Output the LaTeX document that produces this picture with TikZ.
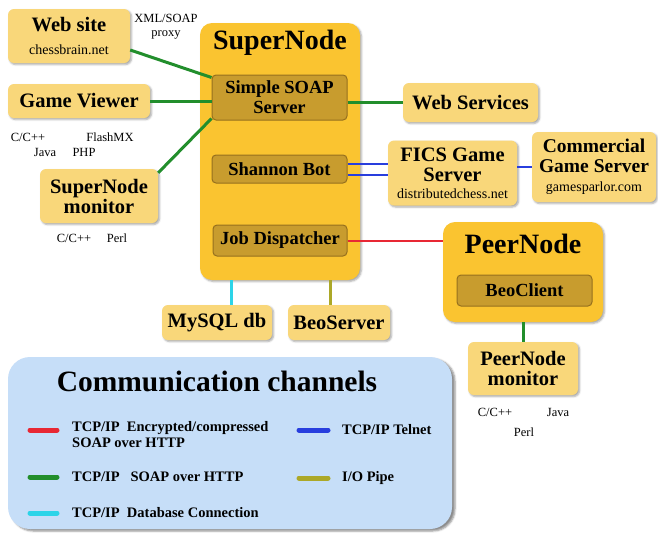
\documentclass[tikz,border=0pt]{standalone}
\usepackage{fontspec}
\setmainfont{Liberation Serif}
\usetikzlibrary{shadows.blur}

\definecolor{sidefill}{RGB}{249,215,122}
\definecolor{hostfill}{RGB}{250,196,48}
\definecolor{partfill}{RGB}{200,156,46}
\definecolor{partedge}{RGB}{150,112,30}
\definecolor{keyfill}{RGB}{198,222,248}
\definecolor{linered}{RGB}{232,40,52}
\definecolor{linegreen}{RGB}{34,142,44}
\definecolor{lineblue}{RGB}{40,62,222}
\definecolor{linecyan}{RGB}{44,212,232}
\definecolor{lineolive}{RGB}{172,168,40}

\newcommand{\bigfont}{\fontsize{28}{30}\selectfont\bfseries}
\newcommand{\midfont}{\fontsize{20.5}{21}\selectfont\bfseries}
\newcommand{\partfont}{\fontsize{18.5}{19}\selectfont\bfseries}
\newcommand{\subfont}{\fontsize{14}{15}\selectfont\mdseries}
\newcommand{\notefont}{\fontsize{12.5}{14}\selectfont}
\newcommand{\keyfont}{\fontsize{14.5}{16}\selectfont\bfseries}

\tikzset{
  softshadow/.style={blur shadow={shadow xshift=1.5pt, shadow yshift=-1.5pt, shadow blur steps=4, shadow opacity=35}},
  sidebox/.style={fill=sidefill, rounded corners=6pt, inner sep=0pt, align=center, font=\midfont, softshadow},
  hostbox/.style={fill=hostfill, rounded corners=12pt, inner sep=0pt, softshadow},
  partbox/.style={fill=partfill, draw=partedge, line width=1pt, rounded corners=4pt, inner sep=0pt, align=center, font=\partfont},
  note/.style={font=\notefont, inner sep=0pt, align=center},
  keytext/.style={font=\keyfont, inner sep=0pt, anchor=west, align=left},
  link/.style={line width=3pt},
  keyline/.style={line width=5pt, line cap=round}
}

\begin{document}
\begin{tikzpicture}[x=1pt,y=-1pt]
\useasboundingbox (0,0) rectangle (658,533);

% legend panel
\node[fill=keyfill, rounded corners=22pt, minimum width=444pt, minimum height=172pt, inner sep=0pt,
  blur shadow={shadow xshift=3pt, shadow yshift=-2pt, shadow blur steps=4, shadow opacity=45}] (legend) at (230,443) {};

% hosts
\node[hostbox, minimum width=160pt, minimum height=257pt] (supernode) at (280,151.5) {};
\node[font=\bigfont, inner sep=0pt] (sntitle) at (280,43) {SuperNode};
\node[partbox, minimum width=135pt, minimum height=45pt] (soap) at (279.5,97.5) {Simple SOAP\\[1pt]Server};
\node[partbox, minimum width=135pt, minimum height=28pt] (shannon) at (279.5,169) {Shannon Bot};
\node[partbox, minimum width=134pt, minimum height=31pt] (jobdisp) at (280,240.5) {Job Dispatcher};

\node[hostbox, minimum width=160pt, minimum height=100pt] (peernode) at (523,272) {};
\node[font=\bigfont, inner sep=0pt] (pntitle) at (523,244) {PeerNode};
\node[partbox, minimum width=135pt, minimum height=31pt] (beoclient) at (524.5,290.5) {BeoClient};

% outer boxes
\node[sidebox, minimum width=122pt, minimum height=54pt] (website) at (69,36) {Web site\\[2pt]{\subfont chessbrain.net}};
\node[sidebox, minimum width=142pt, minimum height=34pt] (gameviewer) at (79,101) {Game Viewer};
\node[sidebox, minimum width=118pt, minimum height=54pt] (snmonitor) at (99,196) {SuperNode\\[-1pt]monitor};
\node[sidebox, minimum width=135pt, minimum height=39pt] (webservices) at (470.5,102.5) {Web Services};
\node[sidebox, minimum width=129pt, minimum height=65pt] (fics) at (452.5,173) {FICS Game\\[-1pt]Server\\[-4pt]{\subfont distributedchess.net}};
\node[sidebox, minimum width=124pt, minimum height=70pt, font=\fontsize{19.5}{21}\selectfont\bfseries] (commercial) at (594,167) {Commercial\\[-1pt]Game Server\\[-2pt]{\subfont gamesparlor.com}};
\node[sidebox, minimum width=110pt, minimum height=35pt] (mysql) at (217,322.5) {MySQL db};
\node[sidebox, minimum width=102pt, minimum height=35pt] (beoserver) at (339,322.5) {BeoServer};
\node[sidebox, minimum width=110pt, minimum height=53pt] (pnmonitor) at (523,368.5) {PeerNode\\[-1pt]monitor};

% small notes
\node[note] (proxynote) at (166,27) {XML/SOAP\\proxy};
\node[note] (gvcpp) at (28,137) {C/C++};
\node[note] (gvflash) at (110,137) {FlashMX};
\node[note] (gvjava) at (45,152) {Java};
\node[note] (gvphp) at (84,152) {PHP};
\node[note] (sncpp) at (74,238) {C/C++};
\node[note] (snperl) at (117,238) {Perl};
\node[note] (pncpp) at (495,412) {C/C++};
\node[note] (pnjava) at (558,412) {Java};
\node[note] (pnperl) at (524,432) {Perl};

% connectors
\draw[link, linegreen] ([yshift=-14pt]website.east) -- ([yshift=-3pt]soap.north west);
\draw[link, linegreen] (gameviewer.east) -- (gameviewer.east -| soap.west);
\draw[link, linegreen] ([yshift=-4pt]snmonitor.north east) -- ([yshift=2pt]soap.south west);
\draw[link, linegreen] (webservices.west -| soap.east) -- (webservices.west);
\draw[link, lineblue, line width=2pt] ([yshift=5pt]shannon.east) -- ([yshift=5pt]shannon.east -| fics.west);
\draw[link, lineblue, line width=2pt] ([yshift=-6pt]shannon.east) -- ([yshift=-6pt]shannon.east -| fics.west);
\draw[link, lineblue, line width=2pt] (fics.east |- commercial.west) -- (commercial.west);
\draw[link, linered, line width=2pt] (jobdisp.east) -- (jobdisp.east -| peernode.west);
\draw[link, linecyan] ([xshift=14pt]mysql.north) -- ([xshift=14pt]mysql.north |- supernode.south);
\draw[link, lineolive] ([xshift=-9pt]beoserver.north) -- ([xshift=-9pt]beoserver.north |- supernode.south);
\draw[link, linegreen] (peernode.south) -- (pnmonitor.north);

% legend
\node[font=\fontsize{29.5}{31}\selectfont\bfseries, inner sep=0pt] (keytitle) at (217,381) {Communication channels};
\foreach \y/\c in {430/linered, 477/linegreen, 513/linecyan} {\draw[keyline, \c] (30,\y) -- (57,\y);}
\foreach \y/\c in {430/lineblue, 478/lineolive} {\draw[keyline, \c] (299,\y) -- (328,\y);}
\node[keytext] (keyred) at (72,435) {TCP/IP\ \ Encrypted/compressed\\SOAP over HTTP};
\node[keytext] (keygreen) at (72,477) {TCP/IP\ \ \ SOAP over HTTP};
\node[keytext] (keycyan) at (72,513) {TCP/IP\ \ Database Connection};
\node[keytext] (keyblue) at (342,430) {TCP/IP Telnet};
\node[keytext] (keyolive) at (342,478) {I/O Pipe};

\end{tikzpicture}
\end{document}
